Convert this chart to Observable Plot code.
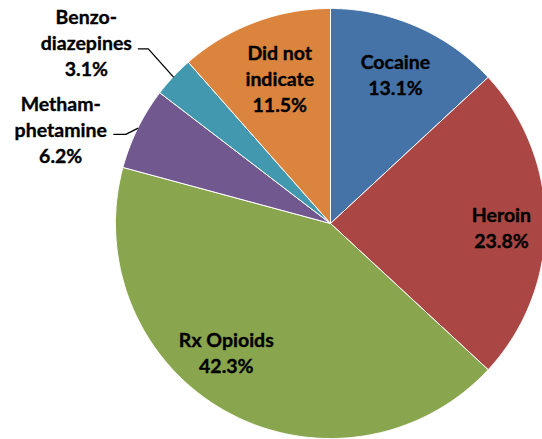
<!DOCTYPE html>
<html><head><meta charset="utf-8">
<script src="https://cdn.jsdelivr.net/npm/d3@7"></script>
<script src="https://cdn.jsdelivr.net/npm/@observablehq/plot@0.6"></script>
<style>body{margin:0;background:#fff;overflow:hidden}</style>
</head><body><div id="chart"></div>
<script>
// ---- data ----
const categories = ["Cocaine", "Heroin", "Rx Opioids", "Methamphetamine", "Benzodiazepines", "Did not indicate"];
const values = [13.1, 23.8, 42.3, 6.2, 3.1, 11.5];
const labelTexts = ["Cocaine\n13.1%", "Heroin\n23.8%", "Rx Opioids\n42.3%", "Metham-\nphetamine\n6.2%", "Benzo-\ndiazepines\n3.1%", "Did not\nindicate\n11.5%"];
const colors = ["#4572A7", "#AA4643", "#89A54E", "#71588F", "#4198AF", "#DB843D"];

// ---- layout (not data) ----
const W = 542, H = 439, CX = 330, CY = 223, R = 215;
// inside labels: radius factor + nudge; outside labels: leader offsets
const labelLayout = [
  {k: 0.755, dx: 0, dy: -1},
  {k: 0.795, dx: 0, dy: 3},
  {k: 0.77, dx: -24, dy: -17},
  {outside: true, elbow: [-12, 6], end: [-24, 6], text: [-53, -6]},
  {outside: true, elbow: [-25, -28], end: [-35, -28], text: [-52, -7]},
  {k: 0.72, dx: 4, dy: -1}
];

const arcs = d3.pie().sort(null).value(d => d)(values);
const pt = (a, r) => [r * Math.sin(a), -r * Math.cos(a)];

const slicePts = [];
arcs.forEach((a, i) => {
  slicePts.push({cat: categories[i], x: 0, y: 0});
  const n = Math.max(4, Math.ceil((a.endAngle - a.startAngle) / 0.005));
  for (let j = 0; j <= n; j++) {
    const t = a.startAngle + (a.endAngle - a.startAngle) * j / n;
    const [x, y] = pt(t, R);
    slicePts.push({cat: categories[i], x, y});
  }
  slicePts.push({cat: categories[i], x: 0, y: 0});
});

const labelRows = [];
const leaderPts = [];
arcs.forEach((a, i) => {
  const mid = (a.startAngle + a.endAngle) / 2;
  const L = labelLayout[i];
  if (L.outside) {
    const [ex, ey] = pt(mid, R);
    leaderPts.push({cat: categories[i], x: ex, y: ey});
    leaderPts.push({cat: categories[i], x: ex + L.elbow[0], y: ey + L.elbow[1]});
    const lx = ex + L.end[0], ly = ey + L.end[1];
    leaderPts.push({cat: categories[i], x: lx, y: ly});
    labelRows.push({text: labelTexts[i], x: lx + L.text[0], y: ly + L.text[1]});
  } else {
    const [x, y] = pt(mid, R * L.k);
    labelRows.push({text: labelTexts[i], x: x + L.dx, y: y + L.dy});
  }
});

const chart = Plot.plot({
  width: W, height: H,
  margin: 0,
  x: {domain: [-CX, W - CX], range: [0, W], axis: null},
  y: {domain: [-CY, H - CY], range: [0, H], axis: null},
  color: {domain: categories, range: colors},
  style: {background: "#fff"},
  marks: [
    Plot.line(slicePts, {x: "x", y: "y", z: "cat", fill: "cat", stroke: "#fff", strokeWidth: 1, strokeLinejoin: "round", curve: "linear"}),
    Plot.line(leaderPts, {x: "x", y: "y", z: "cat", stroke: "#000", strokeWidth: 1.3}),
    Plot.text(labelRows, {x: "x", y: "y", text: "text", fill: "#000", stroke: "#000", strokeWidth: 0.35, fontSize: 19.5, fontWeight: "bold", fontFamily: "Lato", lineHeight: 1.33, lineAnchor: "middle", textAnchor: "middle"})
  ]
});
document.getElementById("chart").appendChild(chart);
</script>
</body></html>
